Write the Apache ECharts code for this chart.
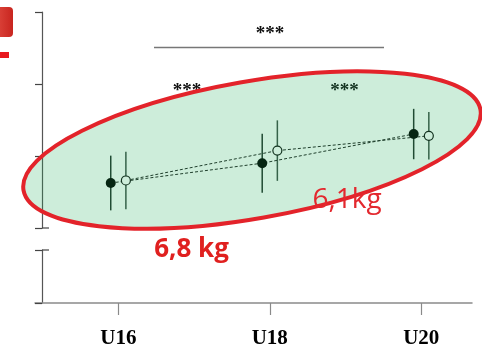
<!DOCTYPE html>
<html>
<head>
<meta charset="utf-8">
<script src="https://cdn.jsdelivr.net/npm/echarts@6/dist/echarts.min.js"></script>
<style>
html,body{margin:0;padding:0;background:#fff;}
#c{width:482px;height:351px;}
</style>
</head>
<body>
<div id="c"></div>
<script>
// ---- data ----
const categories = ['U16', 'U18', 'U20'];
const ageValues = [16, 18, 20];
const filledMean = [66.25, 69.0, 73.05];
const filledSD = [3.8, 4.1, 3.5];
const openMean = [66.6, 70.75, 72.8];
const openSD = [4.0, 4.2, 3.3];
const yTickValues = [60, 70, 80, 90];
const gainLabels = ['6,8 kg', '6,1kg'];
const sigLabels = ['***', '***', '***'];

// ---- chart ----
const JITTER = 0.1;
const xMin = 14.9, xMax = 20.67;
const chart = echarts.init(document.getElementById('c'), null, {renderer: 'canvas'});

const fx = ageValues.map(v => v - JITTER);
const ox = ageValues.map(v => v + JITTER);

function errBar(color) {
  return function (params, api) {
    const a = api.coord([api.value(0), api.value(1)]);
    const b = api.coord([api.value(0), api.value(2)]);
    return {type: 'line', shape: {x1: a[0], y1: a[1], x2: b[0], y2: b[1]},
      style: {stroke: color, lineWidth: 1.5}};
  };
}

const starFont = 'bold 19px "Liberation Serif"';

const option = {
  animation: false,
  backgroundColor: '#fff',
  grid: [
    {left: 35, right: 10, top: 12, height: 216},
    {left: 35, right: 10, top: 250, height: 53}
  ],
  xAxis: [
    {gridIndex: 0, type: 'value', min: xMin, max: xMax, show: false},
    {gridIndex: 1, type: 'value', min: xMin, max: xMax,
      axisLine: {onZero: false, lineStyle: {color: '#8a8a8a', width: 1.5}},
      axisTick: {show: true, length: 12, customValues: ageValues, lineStyle: {color: '#8a8a8a', width: 1.2}},
      axisLabel: {customValues: ageValues, margin: 25,
        formatter: v => categories[ageValues.indexOf(Math.round(v))] || '',
        fontFamily: 'Liberation Serif', fontWeight: 'bold', fontSize: 21, color: '#000'},
      splitLine: {show: false}}
  ],
  yAxis: [
    {gridIndex: 0, type: 'value', min: yTickValues[0], max: yTickValues[yTickValues.length - 1], interval: 10, offset: -7,
      axisLine: {show: true, onZero: false, lineStyle: {color: '#555', width: 1.2}},
      axisTick: {show: true, length: 7, lineStyle: {color: '#444', width: 1.2}},
      axisLabel: {show: false}, splitLine: {show: false}},
    {gridIndex: 1, type: 'value', min: 0, max: 1, interval: 1, offset: -7,
      axisLine: {show: true, onZero: false, lineStyle: {color: '#555', width: 1.2}},
      axisTick: {show: true, length: 7, lineStyle: {color: '#444', width: 1.2}},
      axisLabel: {show: false}, splitLine: {show: false}}
  ],
  series: [
    {type: 'custom', xAxisIndex: 0, yAxisIndex: 0, z: 2,
      renderItem: errBar('#22302a'), encode: {x: 0, y: [1, 2]},
      data: fx.map((x, i) => [x, filledMean[i] - filledSD[i], filledMean[i] + filledSD[i]])},
    {type: 'custom', xAxisIndex: 0, yAxisIndex: 0, z: 2,
      renderItem: errBar('#3e4e46'), encode: {x: 0, y: [1, 2]},
      data: ox.map((x, i) => [x, openMean[i] - openSD[i], openMean[i] + openSD[i]])},
    {type: 'line', xAxisIndex: 0, yAxisIndex: 0, z: 3,
      data: fx.map((x, i) => [x, filledMean[i]]),
      symbol: 'circle', symbolSize: 10,
      itemStyle: {color: '#000'},
      lineStyle: {color: '#222', width: 1, type: [3, 2]}},
    {type: 'line', xAxisIndex: 0, yAxisIndex: 0, z: 3,
      data: ox.map((x, i) => [x, openMean[i]]),
      symbol: 'circle', symbolSize: 9,
      itemStyle: {color: '#fff', borderColor: '#111', borderWidth: 1.2},
      lineStyle: {color: '#222', width: 1, type: [3, 2]}}
  ],
  graphic: [
    // top-left red fragments
    {type: 'rect', shape: {x: -6, y: 7, width: 19, height: 30, r: 4}, z: 1,
      style: {fill: new echarts.graphic.LinearGradient(0, 0, 1, 0, [
        {offset: 0, color: '#e04a40'}, {offset: 1, color: '#c8251f'}])}},
    {type: 'rect', shape: {x: 0, y: 52, width: 9, height: 6}, z: 1, style: {fill: '#e8191f'}},
    // axis break marks
    {type: 'line', shape: {x1: 42, y1: 228, x2: 49, y2: 228}, z: 1, style: {stroke: '#444', lineWidth: 1.2}},
    {type: 'line', shape: {x1: 42, y1: 250, x2: 49, y2: 250}, z: 1, style: {stroke: '#444', lineWidth: 1.2}},
    // significance bracket
    {type: 'line', shape: {x1: 154, y1: 47.5, x2: 384, y2: 47.5}, z: 1, style: {stroke: '#777', lineWidth: 1.5}},
    {type: 'text', x: 270, y: 34, z: 1, style: {text: sigLabels[0], align: 'center', verticalAlign: 'middle',
      font: starFont, fill: '#111'}},
    {type: 'text', x: 187, y: 91.5, z: 1, style: {text: sigLabels[1], align: 'center', verticalAlign: 'middle',
      font: starFont, fill: '#111'}},
    {type: 'text', x: 344.5, y: 91.5, z: 1, style: {text: sigLabels[2], align: 'center', verticalAlign: 'middle',
      font: starFont, fill: '#111'}},
    // highlight ellipse
    {type: 'ellipse', x: 252, y: 150, rotation: 10 * Math.PI / 180, z: 50,
      shape: {cx: 0, cy: 0, rx: 232, ry: 68.5},
      style: {fill: 'rgba(27,173,86,0.22)', stroke: '#e3232a', lineWidth: 4}},
    {type: 'text', x: 191.5, y: 250, z: 60, style: {text: gainLabels[0], align: 'center', verticalAlign: 'middle',
      font: 'bold 26px "Open Sans"', fill: '#e0201f'}},
    {type: 'text', x: 347, y: 200, z: 60, style: {text: gainLabels[1], align: 'center', verticalAlign: 'middle',
      font: '28px "Open Sans"', fill: '#e3282e'}}
  ]
};
chart.setOption(option);
</script>
</body>
</html>
